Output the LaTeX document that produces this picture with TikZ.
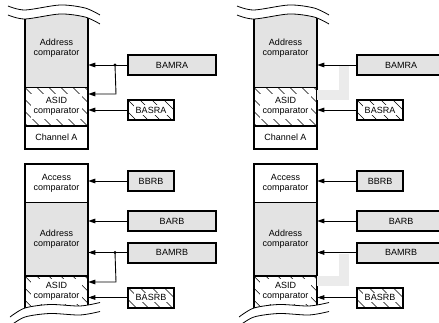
\documentclass[tikz,border=0pt]{standalone}
\usepackage{fontspec}
\setmainfont{Liberation Sans}
\usetikzlibrary{arrows.meta,positioning}
\definecolor{shade}{gray}{0.89}
\definecolor{bandgray}{gray}{0.92}
\setlength{\fboxsep}{1.5pt}
\newcommand\hatchtext[1]{{\setlength{\fboxsep}{2.5pt}\colorbox{white}{\begin{tabular}{@{}c@{}}#1\end{tabular}}}}
\begin{document}
\begin{tikzpicture}[x=1pt,y=-1pt,font=\fontsize{9}{10}\selectfont,
  region/.style={draw,line width=0.6pt,minimum width=63pt,inner sep=0pt,align=center},
  regbox/.style={draw,line width=2pt,minimum height=20pt,inner sep=0pt},
  hatched/.style={path picture={\foreach \i in {-60,-48,...,96}
      \draw[line width=0.5pt] ([xshift=\i pt]path picture bounding box.north west) -- ++(60pt,-60pt);}},
  colframe/.style={line width=2pt},
  conn/.style={line width=0.9pt,-{Triangle[length=7pt,width=4.6pt]}},
  band/.style={line width=10pt,draw=bandgray,line cap=butt,line join=miter},
  wave/.style={line width=0.8pt}]
\useasboundingbox (0,0) rectangle (439,323);
% channel A, left and right
\node[region,fill=shade,minimum height=77pt] (addrAL) at (56.5,48.5) {Address\\comparator};
\node[region,hatched,minimum height=38pt,below=0pt of addrAL] (asidAL) {\hatchtext{ASID\\comparator}};
\node[region,fill=white,minimum height=23pt,below=0pt of asidAL] (chanAL) {Channel A};
\draw[colframe] (addrAL.north west) rectangle (chanAL.south east);
\node[region,fill=shade,minimum height=77pt] (addrAR) at (285.5,48.5) {Address\\comparator};
\node[region,hatched,minimum height=38pt,below=0pt of addrAR] (asidAR) {\hatchtext{ASID\\comparator}};
\node[region,fill=white,minimum height=23pt,below=0pt of asidAR] (chanAR) {Channel A};
\draw[colframe] (addrAR.north west) rectangle (chanAR.south east);
% channel B, left and right
\node[region,fill=white,minimum height=38pt] (accBL) at (56.5,183) {Access\\comparator};
\node[region,fill=shade,minimum height=73pt,below=0pt of accBL] (addrBL) {Address\\comparator};
\node[region,hatched,minimum height=31pt,below=0pt of addrBL] (asidBL) {\hatchtext{ASID\\comparator}};
\draw[colframe] (accBL.north west) rectangle (asidBL.south east);
\node[region,fill=white,minimum height=38pt] (accBR) at (285.5,183) {Access\\comparator};
\node[region,fill=shade,minimum height=73pt,below=0pt of accBR] (addrBR) {Address\\comparator};
\node[region,hatched,minimum height=31pt,below=0pt of addrBR] (asidBR) {\hatchtext{ASID\\comparator}};
\draw[colframe] (accBR.north west) rectangle (asidBR.south east);
% break lines
\foreach \dx in {0,229} {
  \begin{scope}[xshift=\dx pt]
    \fill[white] (6,-2) -- plot[smooth] coordinates {(8,15) (25,19) (60,14) (85,17) (100,24)} -- (102,-2) -- cycle;
    \draw[wave] plot[smooth] coordinates {(8,6) (25,10) (60,5) (85,8) (100,15)};
    \draw[wave] plot[smooth] coordinates {(8,15) (25,19) (60,14) (85,17) (100,24)};
    \fill[white] (6,330) -- plot[smooth] coordinates {(10,317) (25,308) (50,304.5) (80,306) (100,302.5)} -- (102,330) -- cycle;
    \draw[wave] plot[smooth] coordinates {(10,317) (25,308) (50,304.5) (80,306) (100,302.5)};
    \draw[wave] plot[smooth] coordinates {(10,326) (25,317) (50,313.5) (80,315) (100,311.5)};
  \end{scope}
}
% registers
\node[regbox,fill=shade,minimum width=88pt] (bamraL) at (172,65) {BAMRA};
\node[regbox,hatched,fill=white,minimum width=46pt] (basraL) at (151,110) {\colorbox{white}{BASRA}};
\node[regbox,fill=shade,minimum width=88pt] (bamraR) at (401,65) {BAMRA};
\node[regbox,hatched,fill=white,minimum width=46pt] (basraR) at (380,110) {\colorbox{white}{BASRA}};
\node[regbox,fill=shade,minimum width=46pt] (bbrbL) at (151,181) {BBRB};
\node[regbox,fill=shade,minimum width=88pt] (barbL) at (172,221) {BARB};
\node[regbox,fill=shade,minimum width=88pt] (bamrbL) at (172,252.5) {BAMRB};
\node[regbox,hatched,fill=white,minimum width=46pt] (basrbL) at (151,297.5) {\colorbox{white}{BASRB}};
\node[regbox,fill=shade,minimum width=46pt] (bbrbR) at (380,181) {BBRB};
\node[regbox,fill=shade,minimum width=88pt] (barbR) at (401,221) {BARB};
\node[regbox,fill=shade,minimum width=88pt] (bamrbR) at (401,252.5) {BAMRB};
\node[regbox,hatched,fill=white,minimum width=46pt] (basrbR) at (380,297.5) {\colorbox{white}{BASRB}};
% mask paths, shared on the left, cut on the right
\coordinate[left=12pt of bamraL.west] (jAL);
\coordinate (kAL) at (116,94);
\coordinate[left=12pt of bamrbL.west] (jBL);
\coordinate (kBL) at (116,282);
\coordinate (jAR) at (344,66);
\coordinate (kAR) at (344,95);
\coordinate (jBR) at (344,253.5);
\coordinate (kBR) at (344,281);
\draw[band] (jAR) -- (kAR) -- (kAR -| asidAR.east);
\draw[band] (jBR) -- (kBR) -- (kBR -| asidBR.east);
% connectors
\draw[conn] (bamraL.west) -- (bamraL.west -| addrAL.east);
\draw[conn] (jAL) -- (kAL) -- (kAL -| asidAL.east);
\fill (jAL) circle (1.6pt);
\draw[conn] (basraL.west) -- (basraL.west -| asidAL.east);
\draw[conn] (bamraR.west) -- (bamraR.west -| addrAR.east);
\draw[conn] (basraR.west) -- (basraR.west -| asidAR.east);
\draw[conn] (bbrbL.west) -- (bbrbL.west -| accBL.east);
\draw[conn] (barbL.west) -- (barbL.west -| addrBL.east);
\draw[conn] (bamrbL.west) -- (bamrbL.west -| addrBL.east);
\draw[conn] (jBL) -- (kBL) -- (kBL -| asidBL.east);
\fill (jBL) circle (1.6pt);
\draw[conn] (basrbL.west) -- (basrbL.west -| asidBL.east);
\draw[conn] (bbrbR.west) -- (bbrbR.west -| accBR.east);
\draw[conn] (barbR.west) -- (barbR.west -| addrBR.east);
\draw[conn] (bamrbR.west) -- (bamrbR.west -| addrBR.east);
\draw[conn] (basrbR.west) -- (basrbR.west -| asidBR.east);
\end{tikzpicture}
\end{document}
